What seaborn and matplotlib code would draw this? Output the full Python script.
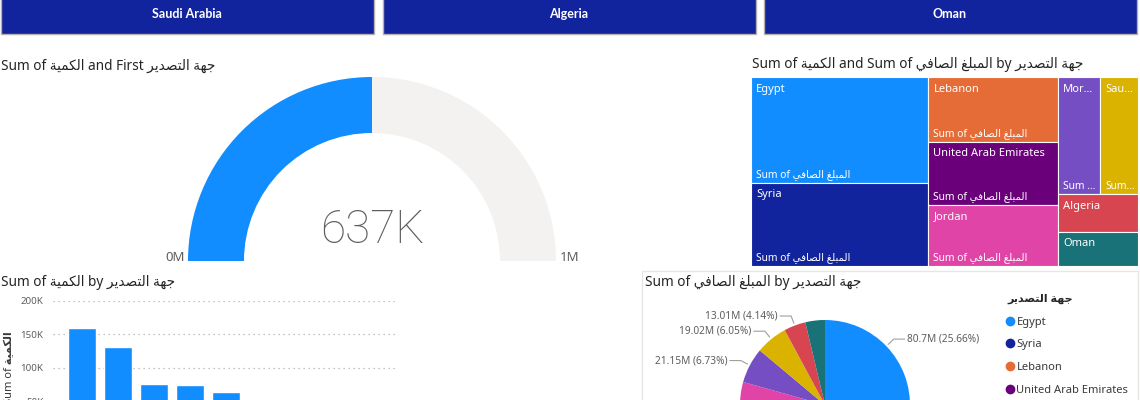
import numpy as np
import matplotlib
matplotlib.use('Agg')
import matplotlib.pyplot as plt
import seaborn as sns
from matplotlib.patches import Wedge, Rectangle
from matplotlib.lines import Line2D
from matplotlib.ticker import FuncFormatter

# ---------------- data ----------------
buttons = ['Saudi Arabia', 'Algeria', 'Oman']
countries = ['Egypt', 'Syria', 'Lebanon', 'United Arab Emirates', 'Jordan',
             'Morocco', 'Saudi Arabia', 'Algeria', 'Oman']
net_amount_m = [80.7, 63.5, 36.2, 35.2, 34.0, 21.15, 19.02, 13.01, 11.7]
pie_label_shown = [True, True, True, True, True, True, True, True, False]
bar_countries = ['Egypt', 'Syria', 'Lebanon', 'Jordan', 'United Arab Emirates',
                 'Morocco', 'Saudi Arabia', 'Algeria', 'Oman']
bar_quantity = [160000, 131000, 76000, 74500, 64000, 45000, 36000, 28000, 22500]
bar_yticks = [0, 50000, 100000, 150000, 200000]
treemap_groups = [['Egypt', 'Syria'],
                  ['Lebanon', 'United Arab Emirates', 'Jordan'],
                  [['Morocco', 'Saudi Arabia'], 'Algeria', 'Oman']]
palette = ['#118DFF', '#12239E', '#E66C37', '#6B007B', '#E044A7',
           '#744EC2', '#D9B300', '#D64550', '#197278']

# ---------------- arabic shaping helper ----------------
AR = {
    'ا': ('\uFE8D', '\uFE8E', None, None),
    'ب': ('\uFE8F', '\uFE90', '\uFE91', '\uFE92'),
    'ة': ('\uFE93', '\uFE94', None, None),
    'ت': ('\uFE95', '\uFE96', '\uFE97', '\uFE98'),
    'ج': ('\uFE9D', '\uFE9E', '\uFE9F', '\uFEA0'),
    'د': ('\uFEA9', '\uFEAA', None, None),
    'ر': ('\uFEAD', '\uFEAE', None, None),
    'ص': ('\uFEB9', '\uFEBA', '\uFEBB', '\uFEBC'),
    'غ': ('\uFECD', '\uFECE', '\uFECF', '\uFED0'),
    'ف': ('\uFED1', '\uFED2', '\uFED3', '\uFED4'),
    'ك': ('\uFED9', '\uFEDA', '\uFEDB', '\uFEDC'),
    'ل': ('\uFEDD', '\uFEDE', '\uFEDF', '\uFEE0'),
    'م': ('\uFEE1', '\uFEE2', '\uFEE3', '\uFEE4'),
    'ه': ('\uFEE9', '\uFEEA', '\uFEEB', '\uFEEC'),
    'ي': ('\uFEF1', '\uFEF2', '\uFEF3', '\uFEF4'),
}


def ar(s):
    out = []
    for i, ch in enumerate(s):
        if ch not in AR:
            out.append(ch)
            continue
        f = AR[ch]
        prev = s[i - 1] if i > 0 else ''
        nxt = s[i + 1] if i + 1 < len(s) else ''
        jp = prev in AR and AR[prev][2] is not None
        jn = f[2] is not None and nxt in AR
        if jp and jn:
            out.append(f[3])
        elif jp:
            out.append(f[1])
        elif jn:
            out.append(f[2])
        else:
            out.append(f[0])
    return ''.join(out)[::-1]


QTY = ar('الكمية')
AMT = ar('المبلغ الصافي')
DEST = ar('جهة التصدير')

# ---------------- setup ----------------
sns.set_theme(style='white')
plt.rcParams['font.family'] = ['Noto Sans', 'DejaVu Sans']
W, H = 1140, 400
fig = plt.figure(figsize=(W / 100, H / 100), dpi=100)
fig.patch.set_facecolor('white')
TITLE_C = '#252423'
GRAY_C = '#605E5C'


def fbox(x0, y0, x1, y1):
    return [x0 / W, 1 - y1 / H, (x1 - x0) / W, (y1 - y0) / H]


bg = fig.add_axes([0, 0, 1, 1], zorder=0)
bg.set_xlim(0, W)
bg.set_ylim(H, 0)
bg.axis('off')

# buttons
button_spans = [(0, 374), (382, 756), (763, 1137)]
for name, (x0, x1) in zip(buttons, button_spans):
    bg.add_patch(Rectangle((x0 + 0.5, -3), x1 - x0 - 1, 36.5, facecolor='#12239E',
                           edgecolor='#B3B0AD', lw=1))
    bg.text((x0 + x1) / 2, 14.5, name, ha='center', va='center', color='white',
            fontsize=9, fontweight='bold', family=['Lato', 'DejaVu Sans'])

# pie visual border
bg.add_patch(Rectangle((641.5, 270.5), 496, 140, fill=False, edgecolor='#E8E6E4', lw=1))

# titles
tkw = dict(fontsize=9.8, color=TITLE_C, va='center', ha='left')
bg.text(1, 66, 'Sum of ' + QTY + ' and First ' + DEST, **tkw)
bg.text(752, 65, 'Sum of ' + QTY + ' and Sum of ' + AMT + ' by ' + DEST, **tkw)
bg.text(1, 282, 'Sum of ' + QTY + ' by ' + DEST, **tkw)
bg.text(645, 283, 'Sum of ' + AMT + ' by ' + DEST, **tkw)

# ---------------- gauge ----------------
gauge_value = sum(bar_quantity)
gauge_max = 2 * gauge_value
R = 184.0
gax = fig.add_axes(fbox(172, 61, 572, 281))
gax.set_xlim(-200 / R, 200 / R)
gax.set_ylim(-20 / R, 200 / R)
gax.axis('off')
frac = gauge_value / gauge_max
ring_w = 1 - 128 / R
gax.add_patch(Wedge((0, 0), 1, 180 - 180 * frac, 180, width=ring_w, facecolor='#118DFF',
                    edgecolor='none'))
gax.add_patch(Wedge((0, 0), 1, 0, 180 - 180 * frac, width=ring_w, facecolor='#F3F2F1',
                    edgecolor='none'))
gax.text(0, 18 / R, f'{round(gauge_value / 1000)}K', ha='center', va='baseline',
         fontsize=33, color=GRAY_C, family=['Roboto', 'DejaVu Sans'], fontweight='light')
gax.text(-1.015, 0, '0M', ha='right', va='baseline', fontsize=9.5, color=GRAY_C)
gax.text(1.02, 0, f'{gauge_max / 1e6:.0f}M', ha='left', va='baseline', fontsize=9.5,
         color=GRAY_C)

# ---------------- treemap ----------------
TX0, TY0, TX1, TY1 = 751, 77, 1138, 266
TW, TH = TX1 - TX0, TY1 - TY0
tax = fig.add_axes(fbox(TX0, TY0, TX1, TY1))
tax.set_xlim(0, 1)
tax.set_ylim(1, 0)
tax.axis('off')
val = dict(zip(countries, net_amount_m))
col = dict(zip(countries, palette))
total = sum(net_amount_m)
renderer = fig.canvas.get_renderer()


def fit_text(t, maxw):
    s = t.get_text()
    if t.get_window_extent(renderer).width <= maxw:
        return
    for n in range(len(s) - 1, 0, -1):
        t.set_text(s[:n] + '...')
        if t.get_window_extent(renderer).width <= maxw:
            return


def tile(name, x0, y0, w, h):
    tax.add_patch(Rectangle((x0, y0), w, h, facecolor=col[name], edgecolor='white', lw=0.8))
    wpx, hpx = w * TW, h * TH
    t = tax.text(x0 + 5 / TW, y0 + 12 / TH, name, color='white', fontsize=8,
                 ha='left', va='center')
    fit_text(t, wpx - 8)
    if hpx >= 45:
        b = tax.text(x0 + 5 / TW, y0 + h - 8 / TH, 'Sum of ' + AMT, color='white',
                     fontsize=7.4, ha='left', va='center')
        fit_text(b, wpx - 8)


def gsum(item):
    return sum(val[n] for n in item) if isinstance(item, list) else val[item]


cx = 0.0
for grp in treemap_groups:
    gs = sum(gsum(it) for it in grp)
    gw = gs / total
    cy = 0.0
    for it in grp:
        ih = gsum(it) / gs
        if isinstance(it, list):
            rx = cx
            for n in it:
                rw = gw * val[n] / gsum(it)
                tile(n, rx, cy, rw, ih)
                rx += rw
        else:
            tile(it, cx, cy, gw, ih)
        cy += ih
    cx += gw

# ---------------- bar chart ----------------
bax = fig.add_axes(fbox(53, 301, 398, 435))
sns.barplot(x=bar_countries, y=bar_quantity, color='#118DFF', saturation=1,
            width=0.78, ax=bax)
bax.set_xlim(-0.806, 8.778)
bax.set_ylim(0, 200000)
bax.set_yticks(bar_yticks)
bax.yaxis.set_major_formatter(FuncFormatter(lambda v, p: f'{int(v / 1000)}K'))
bax.tick_params(axis='y', length=0, labelsize=7, labelcolor=GRAY_C, pad=7)
bax.tick_params(axis='x', length=0, labelbottom=False)
bax.grid(axis='y', linestyle=(0, (1, 3)), color='#B3B0AD', lw=0.9)
bax.set_axisbelow(True)
for s in bax.spines.values():
    s.set_visible(False)
bax.set_ylabel('Sum of ' + QTY, fontsize=8, color='#3B3A39', fontweight='bold')
bax.set_xlabel('')
bax.yaxis.set_label_coords((15 - 53) / 345, 0.5)

# ---------------- pie ----------------
PCX, PCY, PR = 825, 405, 85
pax = fig.add_axes(fbox(PCX - PR, PCY - PR, PCX + PR, PCY + PR))
wedges, _ = pax.pie(net_amount_m, colors=palette, startangle=90, counterclock=False,
                    wedgeprops=dict(linewidth=0))
pax.set_xlim(-1, 1)
pax.set_ylim(-1, 1)
pax.set_aspect('equal')
for w, v, show in zip(wedges, net_amount_m, pie_label_shown):
    if not show:
        continue
    th = np.deg2rad((w.theta1 + w.theta2) / 2)
    c, s = np.cos(th), np.sin(th)
    if s < -0.02:
        continue  # label falls below the visible area
    side = 1 if c >= 0 else -1
    p0 = (1.03 * c, 1.03 * s)
    p1 = (1.12 * c, 1.12 * s)
    p2 = (p1[0] + side * 0.13, p1[1])
    pax.plot([p0[0], p1[0], p2[0]], [p0[1], p1[1], p2[1]], color='#A19F9D', lw=0.8,
             clip_on=False)
    pax.text(p2[0] + side * 0.03, p2[1], f'{v:g}M ({v / total * 100:.2f}%)',
             ha='left' if side > 0 else 'right', va='center', fontsize=7.3,
             color=GRAY_C, clip_on=False)

handles = [Line2D([], [], marker='o', ls='', color=c, markersize=6) for c in palette]
fig.legend(handles, countries, loc='upper left', bbox_to_anchor=(1007 / W, 1 - 294 / H),
           frameon=False, title=DEST, title_fontproperties={'weight': 'bold', 'size': 8},
           fontsize=8, handlelength=0.6, handletextpad=0.25, labelspacing=1.05,
           borderpad=0, borderaxespad=0, alignment='left', labelcolor='#3B3A39')

fig.savefig('out.png', dpi=100, facecolor='white')
